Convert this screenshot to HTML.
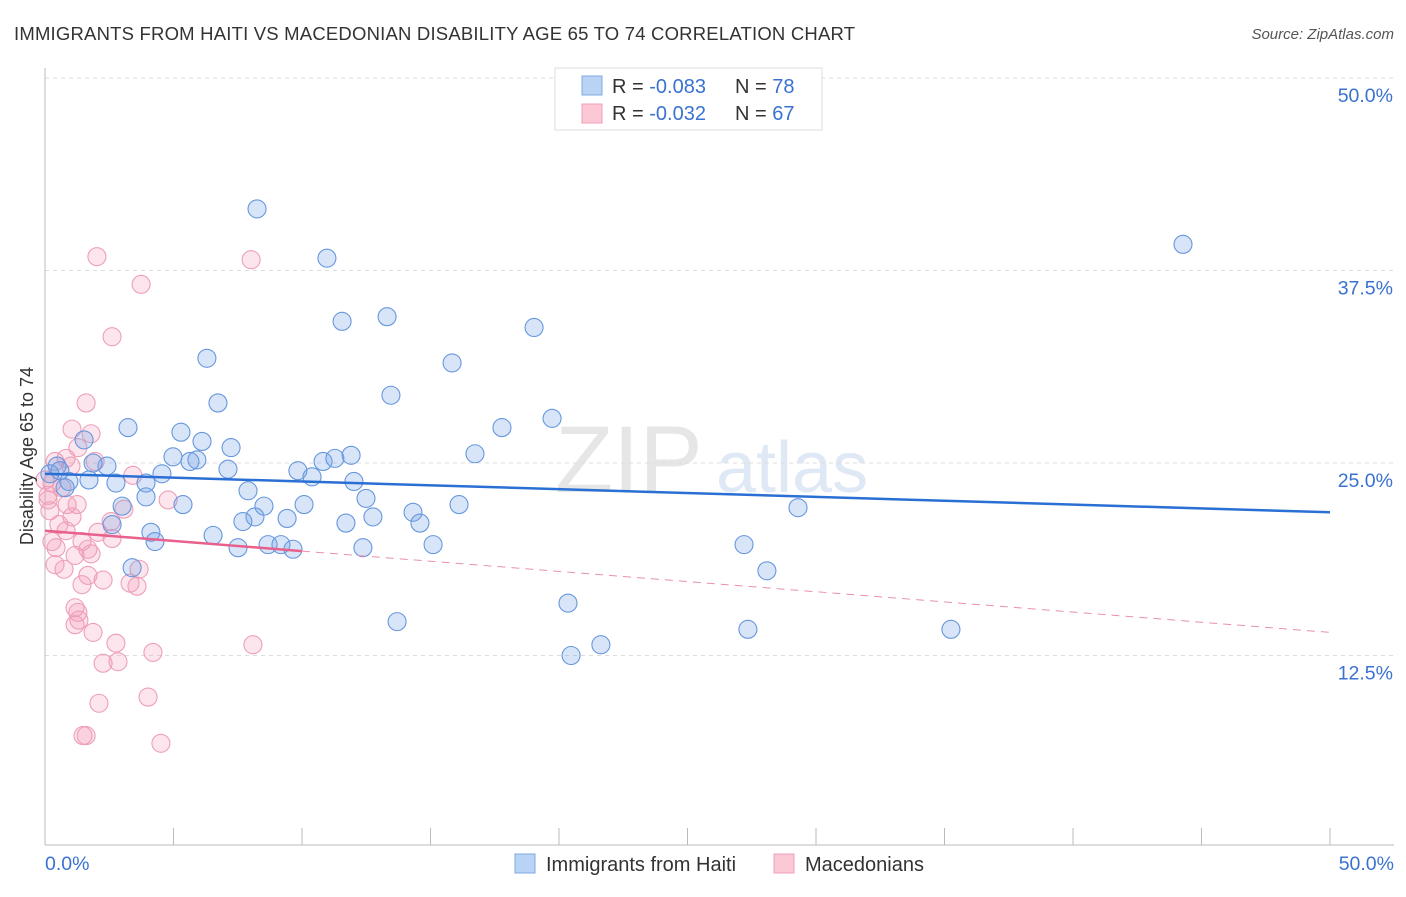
<!DOCTYPE html>
<html><head><meta charset="utf-8"><style>
body{margin:0;background:#fff;font-family:"Liberation Sans",sans-serif;}
svg text{font-family:"Liberation Sans",sans-serif;}
</style></head><body>
<svg id="c" width="1406" height="892">
<text x="14" y="40" font-size="18.5" fill="#333" letter-spacing="0.2">IMMIGRANTS FROM HAITI VS MACEDONIAN DISABILITY AGE 65 TO 74 CORRELATION CHART</text>
<text x="1394" y="39" font-size="15" fill="#555" font-style="italic" text-anchor="end">Source: ZipAtlas.com</text>
<text x="555" y="492" font-size="95" fill="#e6e6e6" font-family="Liberation Serif">ZIP</text>
<text x="716" y="492" font-size="72" fill="#dfe8f5">atlas</text>
<g id="grid"></g><g id="axes"></g><g id="pts"></g><g id="trend"></g>
<text transform="translate(33,456) rotate(-90)" font-size="18" fill="#333" text-anchor="middle">Disability Age 65 to 74</text>
<g>
<rect x="555" y="68" width="267" height="62" fill="#fff" stroke="#ddd"/>
<rect x="582" y="76" width="20" height="19" fill="#b9d3f5" stroke="#7ea9e3"/>
<rect x="582" y="104" width="20" height="19" fill="#fcc8d6" stroke="#f0a0b8"/>
<text x="612" y="93" font-size="20" fill="#333">R = <tspan fill="#3a72d0">-0.083</tspan></text>
<text x="735" y="93" font-size="20" fill="#333">N = <tspan fill="#3a72d0">78</tspan></text>
<text x="612" y="120" font-size="20" fill="#333">R = <tspan fill="#3a72d0">-0.032</tspan></text>
<text x="735" y="120" font-size="20" fill="#333">N = <tspan fill="#3a72d0">67</tspan></text>
</g>
<g>
<rect x="515" y="854" width="20" height="19" fill="#b9d3f5" stroke="#7ea9e3"/>
<text x="546" y="871" font-size="20" fill="#333">Immigrants from Haiti</text>
<rect x="774" y="854" width="20" height="19" fill="#fcc8d6" stroke="#f0a0b8"/>
<text x="805" y="871" font-size="20" fill="#333">Macedonians</text>
</g>
</svg>
<script>
const yTicks=[12.5,25,37.5,50];
const yTickLabels=["12.5%","25.0%","37.5%","50.0%"];
const xTickLabels=["0.0%","50.0%"];
const blueX=[8.25,10.97,44.28,11.56,13.31,19.03,6.30,15.84,13.46,6.73,3.23,5.29,17.78,19.73,6.11,7.24,1.52,11.91,16.73,4.98,5.91,5.64,10.82,11.28,2.41,1.87,0.47,0.58,0.19,9.84,4.55,7.12,1.71,2.76,12.02,3.93,0.93,10.39,0.78,7.90,12.49,3.93,5.37,8.52,10.08,3.00,16.11,14.32,29.30,12.76,8.17,7.70,9.42,14.59,11.71,2.61,4.12,6.54,4.28,15.10,7.51,8.68,9.18,9.65,12.37,27.20,28.09,3.39,20.35,13.70,27.35,35.25,21.63,20.47];
const blueY=[41.5,38.3,39.2,34.2,34.5,33.8,31.8,31.5,29.4,28.9,27.3,27.0,27.3,27.9,26.4,26.0,26.5,25.5,25.6,25.4,25.2,25.1,25.1,25.3,24.8,25.0,24.8,24.5,24.3,24.5,24.3,24.6,23.9,23.7,23.8,23.7,23.8,24.1,23.4,23.2,22.7,22.8,22.3,22.2,22.3,22.2,22.3,21.8,22.1,21.5,21.5,21.2,21.4,21.1,21.1,21.0,20.5,20.3,19.9,19.7,19.5,19.7,19.7,19.4,19.5,19.7,18.0,18.2,15.9,14.7,14.2,14.2,13.2,12.5];
const pinkX=[2.02,8.02,3.74,2.61,1.60,1.05,1.79,1.28,0.82,0.39,1.95,1.01,3.42,0.27,0.66,0.12,0.86,1.25,0.19,3.07,4.79,2.57,1.05,0.54,0.82,2.06,2.61,0.27,0.43,1.44,1.67,1.17,1.79,0.39,0.74,3.66,1.67,2.26,1.44,3.31,3.58,1.17,1.28,1.32,1.17,1.87,2.76,8.09,4.20,2.26,2.84,4.01,2.10,1.48,1.60,4.51,0,0.12];
const pinkY=[38.4,38.2,36.6,33.2,28.9,27.2,26.9,26.0,25.3,25.1,25.1,24.8,24.2,23.7,23.4,22.9,22.3,22.3,21.9,22.0,22.6,21.2,21.5,21.0,20.6,20.5,20.1,19.9,19.5,19.9,19.4,19.0,19.1,18.4,18.1,18.1,17.7,17.4,17.1,17.2,17.0,15.6,15.3,14.8,14.5,14.0,13.3,13.2,12.7,12.0,12.1,9.8,9.4,7.3,7.3,6.8,23.9,22.6];
const blueTrend=[24.3,21.8];
const pinkTrend=[20.6,14.0];
const pinkSolidEnd=10;
const NS="http://www.w3.org/2000/svg";
const X0=45,X1=1330,YB=848,YT=78;
const sx=v=>X0+(X1-X0)*v/50;
const sy=v=>YB-(YB-YT)*v/50;
function mk(tag,attrs,parent){const e=document.createElementNS(NS,tag);for(const k in attrs)e.setAttribute(k,attrs[k]);document.getElementById(parent).appendChild(e);return e;}
yTicks.forEach((t,i)=>{
  const l=mk('line',{x1:X0,x2:1394,y1:sy(t),y2:sy(t),stroke:'#ddd','stroke-dasharray':'4,4'},'grid');
  
  
  const tx=mk('text',{x:1393,y:sy(t)+24,'font-size':19.5,fill:'#3a72d0','text-anchor':'end'},'grid');
  tx.textContent=yTickLabels[i];
  
  
});
const la=mk('line',{x1:X0,x2:X0,y1:68,y2:845,stroke:'#bbb'},'axes');


const lb=mk('line',{x1:X0,x2:1394,y1:845,y2:845,stroke:'#bbb'},'axes');


for(let i=0;i<=10;i++){
  const t=mk('line',{x1:sx(i*5),x2:sx(i*5),y1:828,y2:845,stroke:'#bbb'},'axes');
  
  
}
[[0,'start',X0],[50,'end',1394]].forEach((d,i)=>{
  const tx=mk('text',{x:d[2],y:870,'font-size':19.5,fill:'#3a72d0','text-anchor':d[1]},'axes');
  tx.textContent=xTickLabels[i];
  
  
});
function pts(xs,ys,fill,stroke,name){
  xs.forEach((x,i)=>{
    const c=mk('circle',{cx:sx(x),cy:sy(ys[i]),r:9,fill:fill,stroke:stroke,'stroke-width':1.1},'pts');
    
    
  });
}
pts(pinkX,pinkY,'rgba(245,150,180,0.25)','#ee9fb8','macedonians-point');
pts(blueX,blueY,'rgba(110,160,230,0.27)','#6797dd','haiti-point');
const bt=mk('line',{x1:sx(0),y1:sy(blueTrend[0]),x2:sx(50),y2:sy(blueTrend[1]),stroke:'#2a6fd4','stroke-width':2.5},'trend');


const pe=pinkTrend[0]+(pinkTrend[1]-pinkTrend[0])*pinkSolidEnd/50;
const pt=mk('line',{x1:sx(0),y1:sy(pinkTrend[0]),x2:sx(pinkSolidEnd),y2:sy(pe),stroke:'#e8608c','stroke-width':2.5},'trend');


const pd=mk('line',{x1:sx(pinkSolidEnd),y1:sy(pe),x2:sx(50),y2:sy(pinkTrend[1]),stroke:'#e890aa','stroke-width':1,'stroke-dasharray':'8,6'},'trend');


</script>
</body></html>
